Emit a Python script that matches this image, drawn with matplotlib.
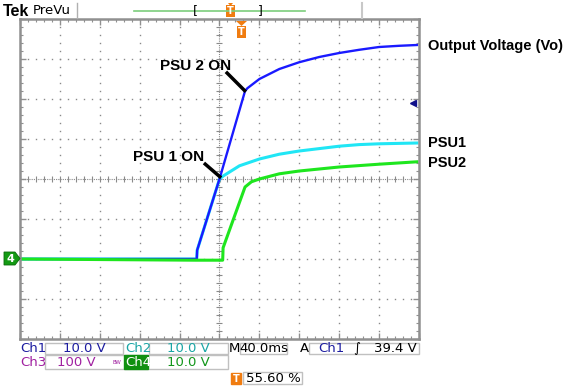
import numpy as np
import matplotlib
matplotlib.use("Agg")
import matplotlib.pyplot as plt
from matplotlib.patches import Rectangle, Polygon

# trace data, in screen divisions (10 x 8 graticule, centre = 0,0)
vo_x = [-5, -0.57, -0.56, 0, 0.64, 0.7, 1.0, 1.5, 2.0, 2.5, 3.0, 3.5, 4.0, 4.5, 4.95]
vo_y = [-2, -2, -1.78, 0, 2.2, 2.27, 2.5, 2.75, 2.92, 3.05, 3.15, 3.23, 3.3, 3.33, 3.35]

psu1_x = [-5, -0.57, -0.56, 0, 0.1, 0.26, 0.5, 1.0, 1.5, 2.0, 2.5, 3.0, 3.5, 4.0, 4.95]
psu1_y = [-2, -2, -1.78, 0, 0.08, 0.18, 0.33, 0.5, 0.62, 0.7, 0.76, 0.82, 0.86, 0.88, 0.9]

psu2_x = [-5, -0.6, 0.08, 0.09, 0.64, 0.8, 1.0, 1.5, 2.0, 3.0, 4.0, 4.95]
psu2_y = [-2, -2.03, -2.03, -1.72, -0.2, -0.07, 0.0, 0.13, 0.2, 0.3, 0.37, 0.43]

trace_labels = ["Output Voltage (Vo)", "PSU1", "PSU2"]
label_px_y = [46, 143, 163]

# status readout
ch_scales = ["10.0 V", "10.0 V", "100 V", "10.0 V"]
timebase = "40.0ms"
trig_level = "39.4 V"
trig_pos = "55.60 %"

W, H = 575, 390
fig = plt.figure(figsize=(W / 100, H / 100), dpi=100)
fig.patch.set_facecolor("white")
lab_font = "Liberation Sans"


def fx(px):
    return px / W


def fy(py):
    return 1 - py / H


# graticule frame: x 20..419, y 19..339
ax = fig.add_axes([fx(20), fy(339), fx(419) - fx(20), fy(19) - fy(339)])
ax.set_xlim(-5, 5)
ax.set_ylim(-4, 4)
ax.set_xticks(np.arange(-5, 6, 1))
ax.set_yticks(np.arange(-4, 5, 1))
ax.set_xticks(np.arange(-5, 5.01, 0.2), minor=True)
ax.set_yticks(np.arange(-4, 4.01, 0.2), minor=True)
ax.tick_params(which="both", direction="in", top=True, right=True,
               labelbottom=False, labelleft=False, color="#909090")
ax.tick_params(which="major", length=4, width=1)
ax.tick_params(which="minor", length=2.5, width=0.8)
for s in ax.spines.values():
    s.set_color("#909090")
    s.set_linewidth(1.8)

gc = "#8a8a8a"
fine = np.arange(-4, 4.01, 0.2)
finex = np.arange(-5, 5.01, 0.2)
for gx in range(-4, 5):
    if gx == 0:
        continue
    ax.plot(np.full_like(fine, gx), fine, ls="none", marker="s", ms=1.0, color=gc, mew=0)
for gy in range(-3, 4):
    if gy == 0:
        continue
    ax.plot(finex, np.full_like(finex, gy), ls="none", marker="s", ms=1.0, color=gc, mew=0)
# centre cross with tick marks
ax.plot([-5, 5], [0, 0], ls=(0, (1, 1)), color=gc, lw=0.8)
ax.plot([0, 0], [-4, 4], ls=(0, (1, 1)), color=gc, lw=0.8)
ax.plot(finex, np.zeros_like(finex), ls="none", marker="|", ms=4, color=gc, mew=0.8)
ax.plot(np.zeros_like(fine), fine, ls="none", marker="_", ms=4, color=gc, mew=0.8)

# traces
ax.plot(psu1_x, psu1_y, color="#20e6f5", lw=2.2, solid_joinstyle="round")
ax.plot(vo_x, vo_y, color="#1a1aff", lw=1.7, solid_joinstyle="round")
ax.plot(psu2_x, psu2_y, color="#1ee61e", lw=2.2, solid_joinstyle="round")

# trigger level marker
ax.plot([4.85], [1.9], marker="<", ms=5, color="#10108a")

# annotations
ax.plot([0.16, 0.66], [2.68, 2.18], color="black", lw=2.5, solid_capstyle="butt")
ax.plot([-0.39, 0.04], [0.4, 0.03], color="black", lw=2.5, solid_capstyle="butt")
ax.text(-1.49, 2.83, "PSU 2 ON", fontsize=11, fontweight="bold", va="center", ha="left",
        family=lab_font)
ax.text(-2.16, 0.55, "PSU 1 ON", fontsize=11, fontweight="bold", va="center", ha="left",
        family=lab_font)

for lab, py in zip(trace_labels, label_px_y):
    fig.text(fx(428), fy(py), lab, fontsize=10.5, fontweight="bold", va="center",
             ha="left", family=lab_font)

# ground marker for ch4
fig.patches.append(Polygon([[fx(4), fy(252)], [fx(15), fy(252)], [fx(20), fy(258.5)],
                            [fx(15), fy(265)], [fx(4), fy(265)]], closed=True,
                           transform=fig.transFigure, fc="#139a13", ec="#0a6a0a", lw=0.6))
fig.text(fx(10.5), fy(258.5), "4", color="white", fontsize=8, fontweight="bold",
         ha="center", va="center")

# top bar
fig.text(fx(3), fy(11), "Tek", fontsize=11.5, fontweight="bold", va="center", ha="left",
         family=lab_font)
fig.text(fx(33), fy(11), "PreVu", fontsize=9.5, va="center", ha="left")
fig.add_artist(plt.Line2D([fx(77), fx(77)], [fy(3), fy(18)], color="#b0b0b0", lw=1,
                          transform=fig.transFigure))
fig.add_artist(plt.Line2D([fx(362), fx(362)], [fy(3), fy(18)], color="#c8c8c8", lw=1.5,
                          transform=fig.transFigure))
fig.add_artist(plt.Line2D([fx(134), fx(305)], [fy(11), fy(11)], color="#7ccd7c", lw=1.2,
                          transform=fig.transFigure))
fig.text(fx(195), fy(11), "[", fontsize=9, va="center", ha="center")
fig.text(fx(260), fy(11), "]", fontsize=9, va="center", ha="center")

orange = "#f07c10"


def t_icon(cx, cy, w=9, h=11):
    fig.patches.append(Rectangle((fx(cx - w / 2), fy(cy + h / 2)), w / W, h / H,
                                 transform=fig.transFigure, fc=orange, ec="none"))
    fig.text(fx(cx), fy(cy), "T", color="white", fontsize=7, fontweight="bold",
             ha="center", va="center")


t_icon(230.5, 11)
fig.patches.append(Polygon([[fx(228), fy(3)], [fx(233), fy(3)], [fx(230.5), fy(6)]],
                           transform=fig.transFigure, fc=orange, ec="none"))
t_icon(241.5, 32)
fig.patches.append(Polygon([[fx(236), fy(21)], [fx(247), fy(21)], [fx(241.5), fy(26)]],
                           transform=fig.transFigure, fc=orange, ec="none"))


# status readout boxes
def box(x0, x1, y0, y1, fc="white", ec="#c0c0c0"):
    fig.patches.append(Rectangle((fx(x0), fy(y1)), (x1 - x0) / W, (y1 - y0) / H,
                                 transform=fig.transFigure, fc=fc, ec=ec, lw=1))


c1, c2, c3, c4 = "#1c1ca0", "#1aa5a5", "#a020a0", "#12961a"
fs = 9.5
r1, r2, r3 = 348.5, 362, 378.5
box(45, 123, 343, 354)
box(149, 228, 343, 354)
box(240, 287, 343, 354)
box(309, 419, 343, 354)
box(45, 228, 355, 369)
box(124, 148, 355, 369, fc="#109010", ec="#109010")
box(243, 302, 372, 384)

fig.text(fx(20), fy(r1), "Ch1", color=c1, fontsize=fs, va="center")
fig.text(fx(84), fy(r1), ch_scales[0], color=c1, fontsize=fs, va="center", ha="center")
fig.text(fx(125), fy(r1), "Ch2", color=c2, fontsize=fs, va="center")
fig.text(fx(188), fy(r1), ch_scales[1], color=c2, fontsize=fs, va="center", ha="center")
fig.text(fx(229), fy(r1), "M", color="black", fontsize=fs, va="center")
fig.text(fx(264), fy(r1), timebase, color="black", fontsize=fs, va="center", ha="center")
fig.text(fx(300), fy(r1), "A", color="black", fontsize=fs, va="center")
fig.text(fx(318), fy(r1), "Ch1", color=c1, fontsize=fs, va="center")
fig.text(fx(353), fy(r1), "\u222b", color="black", fontsize=fs, va="center", style="italic")
fig.text(fx(417), fy(r1), trig_level, color="black", fontsize=fs, va="center", ha="right")

fig.text(fx(20), fy(r2), "Ch3", color=c3, fontsize=fs, va="center")
fig.text(fx(76), fy(r2), ch_scales[2], color=c3, fontsize=fs, va="center", ha="center")
fig.text(fx(117), fy(r2), "BW", color=c3, fontsize=4, va="center", ha="center")
fig.text(fx(125), fy(r2), "Ch4", color="white", fontsize=fs, va="center")
fig.text(fx(188), fy(r2), ch_scales[3], color=c4, fontsize=fs, va="center", ha="center")

box(231, 241, 373, 384, fc=orange, ec=orange)
fig.text(fx(236), fy(r3), "T", color="white", fontsize=7, fontweight="bold",
         ha="center", va="center")
fig.text(fx(246), fy(r3), trig_pos, color="black", fontsize=fs, va="center")

fig.savefig("out.png", dpi=100)
